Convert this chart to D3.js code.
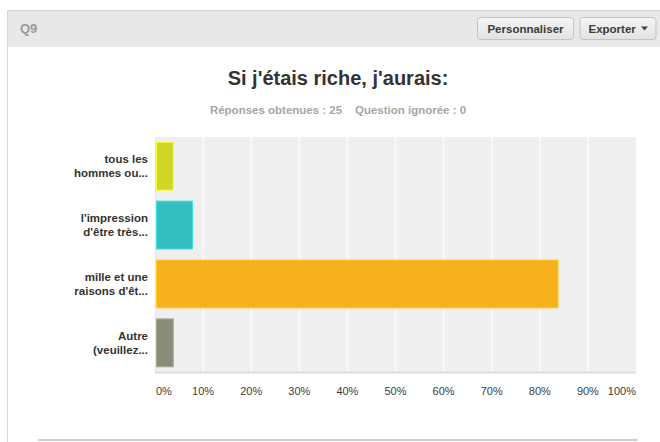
<!DOCTYPE html>
<html>
<head>
<meta charset="utf-8">
<script src="https://cdn.jsdelivr.net/npm/d3@7"></script>
<style>
  body { margin: 0; background: #fff; font-family: "Liberation Sans", Arial, sans-serif; }
  svg { display: block; }
</style>
</head>
<body>
<div id="vis"></div>
<script>
const categories = [
    ['tous les', 'hommes ou...'],
    ["l'impression", "d'être très..."],
    ['mille et une', "raisons d'êt..."],
    ['Autre', '(veuillez...']
]
const values = [4, 8, 84, 4]
const barColors = ['#cfd628', '#33bfc0', '#f7b01e', '#8b8b7b']
const ticks = [0, 10, 20, 30, 40, 50, 60, 70, 80, 90, 100]
const titleText = "Si j'étais riche, j'aurais:"
const subText = 'Réponses obtenues : 25    Question ignorée : 0'

const W = 660, H = 442
const plot = {left: 155, right: 636, top: 137, bottom: 372}

const svg = d3.select('#vis')
    .append('svg')
    .attr('width', W)
    .attr('height', H)

// panel frame
svg.append('rect')
    .attr('x', 7.5).attr('y', 10.5)
    .attr('width', W).attr('height', H)
    .attr('fill', '#fff')
    .attr('stroke', '#d6d6d6')

// header bar
svg.append('rect')
    .attr('x', 8).attr('y', 11)
    .attr('width', W).attr('height', 36)
    .attr('fill', '#e8e8e8')

svg.append('text')
    .attr('x', 20).attr('y', 33)
    .style('font-size', '13px')
    .style('font-weight', 'bold')
    .attr('fill', '#9a9a9a')
    .text('Q9')

const grad = svg.append('defs').append('linearGradient')
    .attr('id', 'btn').attr('x1', 0).attr('y1', 0).attr('x2', 0).attr('y2', 1)
grad.append('stop').attr('offset', '0%').attr('stop-color', '#f6f6f6')
grad.append('stop').attr('offset', '100%').attr('stop-color', '#e2e2e2')

const buttons = [
    {x: 477, w: 96, label: 'Personnaliser'},
    {x: 579.5, w: 76, label: 'Exporter'}
]
buttons.forEach(b => {
    svg.append('rect')
        .attr('x', b.x + 0.5).attr('y', 17.5)
        .attr('width', b.w).attr('height', 22)
        .attr('rx', 3)
        .attr('fill', 'url(#btn)')
        .attr('stroke', '#c4c4c4')
    svg.append('text')
        .attr('x', b.label === 'Exporter' ? b.x + 9 : b.x + b.w / 2 + 0.5)
        .attr('y', 32.5)
        .attr('text-anchor', b.label === 'Exporter' ? 'start' : 'middle')
        .style('font-size', '11.5px')
        .style('font-weight', 'bold')
        .attr('fill', '#3a3a3a')
        .text(b.label)
})
// dropdown caret
svg.append('path')
    .attr('d', 'M641,26.5 L648,26.5 L644.5,30.5 Z')
    .attr('fill', '#444')

// title
svg.append('text')
    .attr('x', 338).attr('y', 85)
    .attr('text-anchor', 'middle')
    .style('font-size', '20px')
    .style('font-weight', 'bold')
    .attr('fill', '#333')
    .text(titleText)

svg.append('text')
    .attr('x', 338).attr('y', 114)
    .attr('text-anchor', 'middle')
    .style('font-size', '11.5px')
    .style('font-weight', 'bold')
    .style('white-space', 'pre')
    .attr('fill', '#a6a6a6')
    .text(subText)

// scales
const xScale = d3.scaleLinear()
    .domain([0, 100])
    .range([plot.left, plot.right])

const yScale = d3.scaleBand()
    .domain(d3.range(categories.length))
    .range([plot.top, plot.bottom])
    .paddingInner(0.17)
    .paddingOuter(0.08)

// plot background
svg.append('rect')
    .attr('x', plot.left).attr('y', plot.top)
    .attr('width', plot.right - plot.left)
    .attr('height', plot.bottom - plot.top)
    .attr('fill', '#efefef')

// grid lines
svg.selectAll('.grid')
    .data(ticks.slice(1, -1))
    .join('line')
    .attr('class', 'grid')
    .attr('x1', d => xScale(d)).attr('x2', d => xScale(d))
    .attr('y1', plot.top).attr('y2', plot.bottom)
    .attr('stroke', '#f9f9f9')
    .attr('stroke-width', 2)

// left + bottom edges
svg.append('line')
    .attr('x1', plot.left + 0.5).attr('x2', plot.left + 0.5)
    .attr('y1', plot.top).attr('y2', plot.bottom)
    .attr('stroke', '#e4e4e4')
svg.append('line')
    .attr('x1', plot.left).attr('x2', plot.right)
    .attr('y1', plot.bottom + 0.5).attr('y2', plot.bottom + 0.5)
    .attr('stroke', '#dedede')
    .attr('stroke-width', 2)

// bars
svg.selectAll('.bar')
    .data(values)
    .join('rect')
    .attr('class', 'bar')
    .attr('x', xScale(0) + 1.5)
    .attr('y', (d, i) => yScale(i) + 0.5)
    .attr('width', d => xScale(d) - xScale(0) - 2.5)
    .attr('height', yScale.bandwidth() - 1)
    .attr('fill', (d, i) => barColors[i])
    .attr('stroke', (d, i) => d3.color(barColors[i]).brighter(0.5))
    .attr('stroke-width', 1)

// category labels
const catG = svg.selectAll('.cat')
    .data(categories)
    .join('text')
    .attr('class', 'cat')
    .attr('x', 148)
    .attr('text-anchor', 'end')
    .style('font-size', '11.5px')
    .style('font-weight', 'bold')
    .attr('fill', '#333')

catG.selectAll('tspan')
    .data((d, i) => d.map((t, j) => ({t, j, c: yScale(i) + yScale.bandwidth() / 2})))
    .join('tspan')
    .attr('x', 148)
    .attr('y', d => d.c + (d.j === 0 ? -3 : 11))
    .text(d => d.t)

// x tick labels
svg.selectAll('.tick')
    .data(ticks)
    .join('text')
    .attr('class', 'tick')
    .attr('x', (d, i) => i === 0 ? xScale(d) + 1 : xScale(d))
    .attr('y', 395)
    .attr('text-anchor', (d, i) => i === 0 ? 'start' : (i === ticks.length - 1 ? 'end' : 'middle'))
    .style('font-size', '11px')
    .attr('fill', '#3c3c3c')
    .text(d => d + '%')

// bottom rule
svg.append('line')
    .attr('x1', 38).attr('x2', 638)
    .attr('y1', 440).attr('y2', 440)
    .attr('stroke', '#cfcfcf')
    .attr('stroke-width', 2)
</script>
</body>
</html>
